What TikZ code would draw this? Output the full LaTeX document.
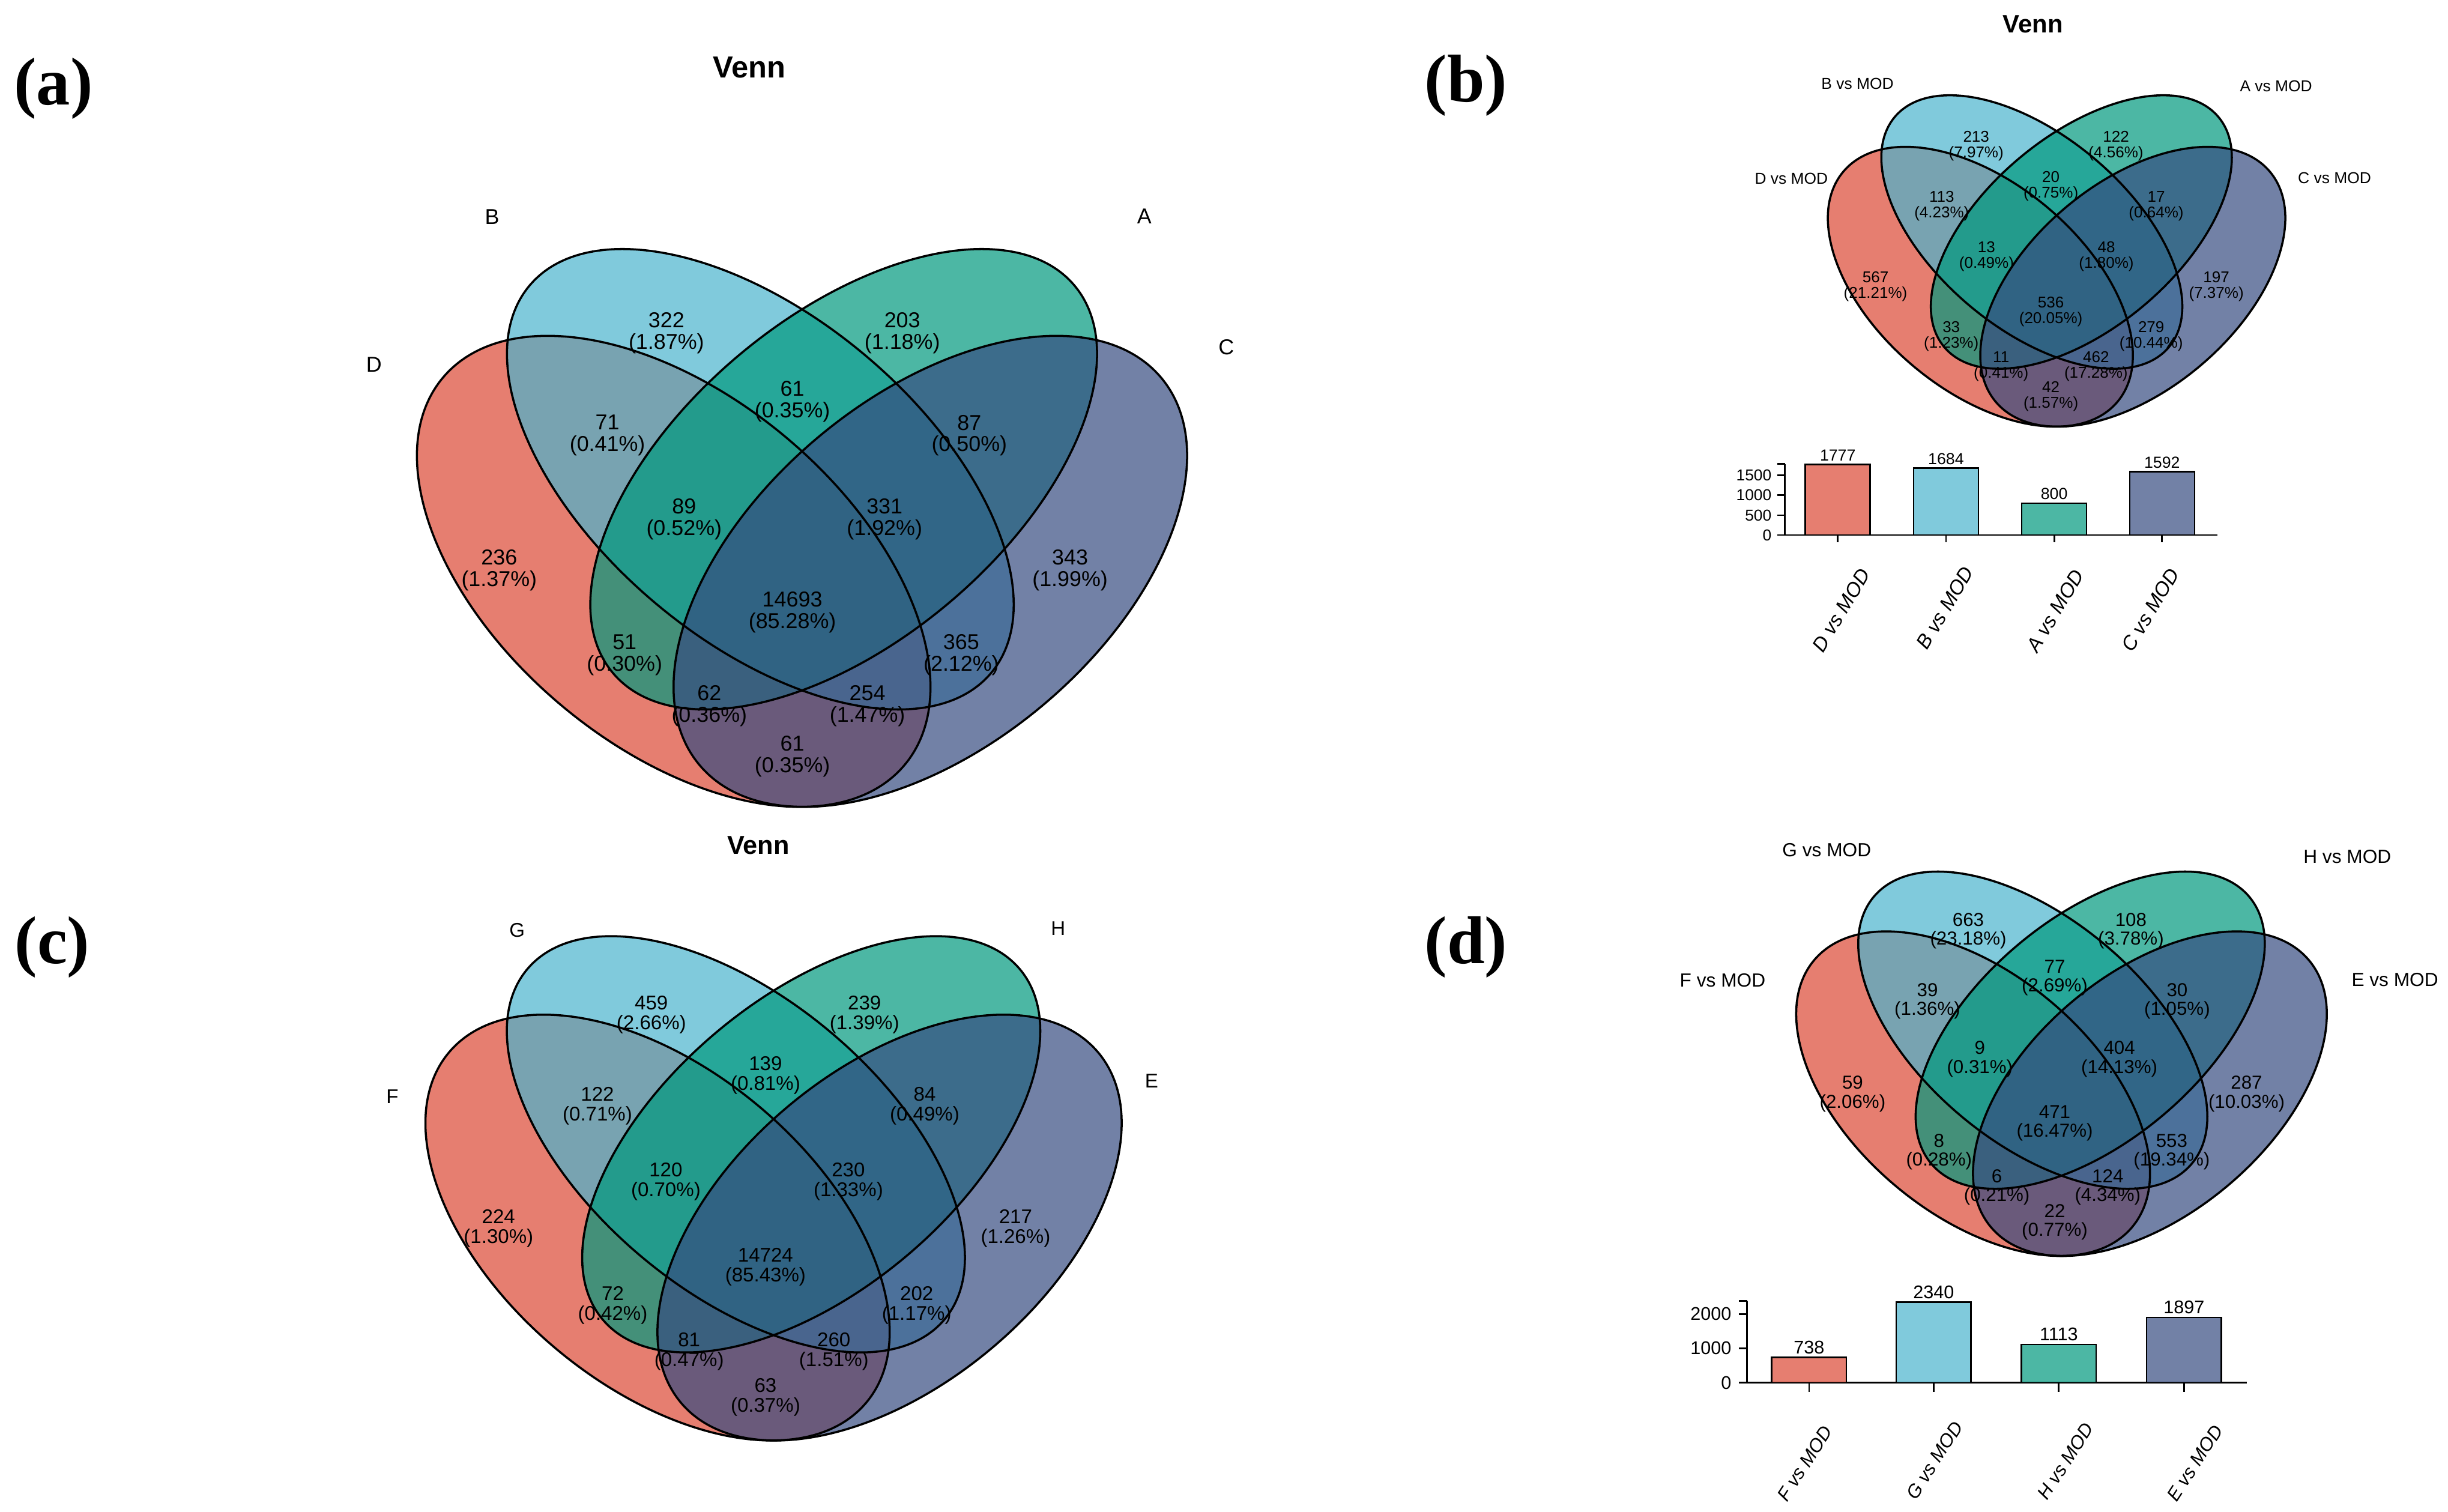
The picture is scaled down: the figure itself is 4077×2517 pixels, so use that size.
\documentclass[tikz,border=0pt]{standalone}
\usepackage{fontspec}
\setmainfont{Liberation Sans}
\newfontfamily\panelfont{Liberation Serif}

\definecolor{vennD}{RGB}{219,71,51}
\definecolor{vennB}{RGB}{74,179,205}
\definecolor{vennA}{RGB}{0,152,125}
\definecolor{vennC}{RGB}{54,76,128}

\tikzset{
  vennline/.style={line width=1pt},
  panellab/.style={font=\panelfont\bfseries\fontsize{32}{32}\selectfont, inner sep=0pt},
  venntitle/.style={font=\bfseries\fontsize{#1}{#1}\selectfont, inner sep=0pt},
  cnt/.style={align=center, inner sep=0pt, font=\fontsize{#1}{#1}\selectfont},
  setlab/.style={inner sep=0pt, font=\fontsize{#1}{#1}\selectfont},
  axisline/.style={line width=0.8pt},
  barbox/.style={draw=black, line width=0.7pt, fill opacity=0.7},
  barval/.style={anchor=south, inner sep=1.5pt, font=\fontsize{#1}{#1}\selectfont},
  ticklab/.style={anchor=east, inner sep=0pt, font=\fontsize{#1}{#1}\selectfont},
  grouplab/.style={anchor=north east, inner sep=0pt, font=\itshape\fontsize{#1}{#1}\selectfont}
}

% four ellipses, centre crossing at (#1,#2), scaled by #3
\newcommand{\vennfour}[3]{%
  \begin{scope}[shift={(#1,#2)}, scale=#3]
    \foreach \ex/\ey/\eb/\er/\ec in {-213.7/195.8/291.2/-40/vennD, -69.4/42.4/270.4/-40/vennB,
        69.4/42.4/270.4/40/vennA, 213.7/195.8/291.2/40/vennC}
      \fill[\ec, fill opacity=0.7, rotate around={\er:(\ex,\ey)}] (\ex,\ey) ellipse [x radius=501.8, y radius=\eb];
    \foreach \ex/\ey/\eb/\er in {-213.7/195.8/291.2/-40, -69.4/42.4/270.4/-40,
        69.4/42.4/270.4/40, 213.7/195.8/291.2/40}
      \draw[vennline, rotate around={\er:(\ex,\ey)}] (\ex,\ey) ellipse [x radius=501.8, y radius=\eb];
  \end{scope}}

\begin{document}
\begin{tikzpicture}[x=0.01cm, y=-0.01cm]
\useasboundingbox (0,0) rectangle (4077,2517);

% (a)
\node[panellab] (pa) at (89,147) {(a)};
\node[venntitle=14.4] (ta) at (1248.2,112) {Venn};
\vennfour{1335.7}{755.7}{1}
\foreach \nx/\ny/\nn/\np [count=\i] in {1109.8/554.9/322/1.87, 1502.7/554.9/203/1.18,
    1319.6/668.8/61/0.35, 1011.6/725.2/71/0.41, 1614.3/725.2/87/0.50, 1139.3/864.8/89/0.52,
    1473.2/864.8/331/1.92, 831.3/949.4/236/1.37, 1782.1/949.4/343/1.99,
    1319.6/1019.5/14693/85.28, 1040.2/1090.9/51/0.30, 1600.9/1090.9/365/2.12,
    1181.3/1175.4/62/0.36, 1444.6/1175.4/254/1.47, 1319.6/1259.3/61/0.35}
  \node[cnt=10.2] (a\i) at (\nx,\ny) {\nn\\(\np\%)};
\foreach \lx/\ly/\ln in {819.6/361.6/B, 1905.7/359.9/A, 622.7/607/D, 2042.3/578.6/C}
  \node[setlab=10.2] (s\ln) at (\lx,\ly) {\ln};

% (b)
\node[panellab] (pb) at (2441.7,142) {(b)};
\node[venntitle=11.9] (tb) at (3385.7,40.5) {Venn};
\vennfour{3425.1}{361.2}{0.594}
\foreach \nx/\ny/\nn/\np [count=\i] in {3291.2/242.9/213/7.97, 3524/242.9/122/4.56,
    3415.6/309.8/20/0.75, 3233.8/343.3/113/4.23, 3591/343.3/17/0.64, 3308.4/427.2/13/0.49,
    3508/427.2/48/1.80, 3123.5/477.2/567/21.21, 3691.1/477.2/197/7.37,
    3415.6/518.8/536/20.05, 3249.7/559.8/33/1.23, 3582.7/559.8/279/10.44,
    3332.7/610.3/11/0.41, 3490.8/610.3/462/17.28, 3415.6/660.3/42/1.57}
  \node[cnt=7.4] (b\i) at (\nx,\ny) {\nn\\(\np\%)};
\foreach \lx/\ly/\ln in {3093.5/139.3/B, 3790.6/143.3/A, 2983.4/297/D, 3888/296.4/C}
  \node[setlab=7.5] (vs\ln) at (\lx,\ly) {\ln\ vs MOD};
\begin{scope}[shift={(0,891)}, yscale=-0.0662]
  \draw[axisline] (2972.5,1787) -- (2972.5,0) -- (3692.7,0);
  \draw[axisline] (2959.6,1787) -- (2972.5,1787);
  \foreach \t in {0,500,1000,1500} {
    \draw[axisline] (2959.6,\t) -- (2972.5,\t);
    \node[ticklab=7.5] (yb\t) at (2951,\t) {\t};
  }
  \foreach \bx/\bv/\bc/\bn in {3060.7/1777/vennD/D, 3240.9/1684/vennB/B,
      3421.1/800/vennA/A, 3600.8/1592/vennC/C} {
    \draw[barbox, fill=\bc] (\bx-54,0) rectangle (\bx+54,\bv);
    \draw[axisline] (\bx,0) -- (\bx,-181);
    \node[barval=7.6] (v\bn) at (\bx,\bv) {\bv};
  }
\end{scope}
\foreach \gx/\gy/\gl in {3095.6/943.3/D, 3267.9/940/B, 3451.6/945/A, 3610.5/942.7/C}
  \node[grouplab=9.5, rotate=59] (g\gl) at (\gx,\gy) {\gl\ vs MOD};

% (c)
\node[panellab] (pc) at (87,1577) {(c)};
\node[venntitle=12.3] (tc) at (1262.9,1408) {Venn};
\vennfour{1288.3}{1867.3}{0.904}
\foreach \nx/\ny/\nn/\np [count=\i] in {1084.8/1689.4/459/2.66, 1439.7/1689.4/239/1.39,
    1274.9/1790.6/139/0.81, 995/1842/122/0.71, 1540/1842/84/0.49, 1108.9/1967.7/120/0.70,
    1412.9/1967.7/230/1.33, 830.3/2045.9/224/1.30, 1691.4/2045.9/217/1.26,
    1274.9/2109.9/14724/85.43, 1020.5/2173.9/72/0.42, 1526.7/2173.9/202/1.17,
    1147.7/2250.6/81/0.47, 1388.8/2250.6/260/1.51, 1274.9/2326.5/63/0.37}
  \node[cnt=9.4] (c\i) at (\nx,\ny) {\nn\\(\np\%)};
\foreach \lx/\ly/\ln in {861.1/1549.5/G, 1762.4/1545.7/H, 653.5/1826.3/F, 1917.8/1800.3/E}
  \node[setlab=9.4] (s\ln) at (\lx,\ly) {\ln};

% (d)
\node[panellab] (pd) at (2441.7,1577) {(d)};
\vennfour{3433.3}{1686.4}{0.689}
\foreach \nx/\ny/\nn/\np [count=\i] in {3278/1550.2/663/23.18, 3548.9/1550.2/108/3.78,
    3422/1628.4/77/2.69, 3210/1667.1/39/1.36, 3625.9/1667.1/30/1.05, 3297.3/1763.8/9/0.31,
    3529.6/1763.8/404/14.13, 3085.4/1821.9/59/2.06, 3741.5/1821.9/287/10.03,
    3422/1870.2/471/16.47, 3229.3/1918.6/8/0.28, 3616.9/1918.6/553/19.34,
    3325.6/1977.4/6/0.21, 3510.3/1977.4/124/4.34, 3422/2035.5/22/0.77}
  \node[cnt=8.9] (d\i) at (\nx,\ny) {\nn\\(\np\%)};
\foreach \lx/\ly/\ln in {3042.3/1415.5/G, 3909.3/1426.7/H, 2868.9/1632.8/F, 3988.6/1631.3/E}
  \node[setlab=9] (vs\ln) at (\lx,\ly) {\ln\ vs MOD};
\begin{scope}[shift={(0,2302.7)}, yscale=-0.0573]
  \draw[axisline] (2909.7,2377) -- (2909.7,0) -- (3741.5,0);
  \draw[axisline] (2896,2377) -- (2909.7,2377);
  \foreach \t in {0,1000,2000} {
    \draw[axisline] (2896,\t) -- (2909.7,\t);
    \node[ticklab=8.7] (yd\t) at (2884,\t) {\t};
  }
  \foreach \bx/\bv/\bc/\bn in {3012.9/738/vennD/F, 3220.3/2340/vennB/G,
      3428.8/1113/vennA/H, 3637.3/1897/vennC/E} {
    \draw[barbox, fill=\bc] (\bx-62.3,0) rectangle (\bx+62.3,\bv);
    \draw[axisline] (\bx,0) -- (\bx,-262);
    \node[barval=8.7] (v\bn) at (\bx,\bv) {\bv};
  }
\end{scope}
\foreach \gx/\gy/\gl in {3034.4/2371.1/F, 3252/2363.7/G, 3469.5/2366/H, 3684.9/2369.7/E}
  \node[grouplab=8.9, rotate=57] (g\gl) at (\gx,\gy) {\gl\ vs MOD};
\end{tikzpicture}
\end{document}
